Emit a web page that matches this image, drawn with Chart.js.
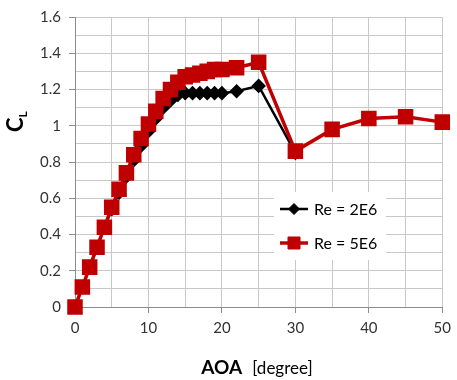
<!DOCTYPE html>
<html>
<head>
<meta charset="utf-8">
<script src="https://cdn.jsdelivr.net/npm/chart.js@4.4.1/dist/chart.umd.min.js"></script>
<style>
  html, body { margin: 0; padding: 0; background: #fff; }
  #wrap { width: 457px; height: 380px; }
</style>
</head>
<body>
<div id="wrap"><canvas id="clChart" width="457" height="380"></canvas></div>
<script>
// angle of attack (deg) and lift coefficient
const aoaRe2 = [0, 1, 2, 3, 4, 5, 6, 7, 8, 9, 10, 11, 12, 13, 14, 15, 16, 17, 18, 19, 20, 22, 25, 30];
const clRe2 = [0, 0.11, 0.22, 0.33, 0.44, 0.54, 0.63, 0.72, 0.81, 0.89, 0.97, 1.04, 1.10, 1.14, 1.17, 1.18, 1.18, 1.18, 1.18, 1.18, 1.18, 1.19, 1.22, 0.85];

const aoaRe5 = [0, 1, 2, 3, 4, 5, 6, 7, 8, 9, 10, 11, 12, 13, 14, 15, 16, 17, 18, 19, 20, 22, 25, 30, 35, 40, 45, 50];
const clRe5 = [0, 0.11, 0.22, 0.33, 0.44, 0.55, 0.65, 0.74, 0.84, 0.93, 1.01, 1.08, 1.15, 1.20, 1.24, 1.27, 1.28, 1.29, 1.30, 1.31, 1.31, 1.32, 1.35, 0.86, 0.98, 1.04, 1.05, 1.02];

const seriesLabels = ['Re = 2E6', 'Re = 5E6'];

const FONT = 'Lato, "Open Sans", sans-serif';
const GRID = '#c8c8c8';
const AXIS = '#8c8c8c';

const toPoints = (xs, ys) => xs.map((x, i) => ({ x: x, y: ys[i] }));

// axis titles: C with subscript L, and bold AOA + [degree]
const titlesPlugin = {
    id: 'titles',
    afterDraw(chart) {
        const ctx = chart.ctx;
        ctx.save();
        ctx.fillStyle = '#000';
        // y title, rotated
        ctx.translate(23, 132);
        ctx.rotate(-Math.PI / 2);
        ctx.textBaseline = 'alphabetic';
        ctx.textAlign = 'left';
        ctx.font = 'bold 22px ' + FONT;
        ctx.fillText('C', 0, 0);
        const cw = ctx.measureText('C').width;
        ctx.font = 'bold 12px ' + FONT;
        ctx.fillText('L', cw, 4);
        ctx.restore();

        // x title
        ctx.save();
        ctx.fillStyle = '#000';
        ctx.textBaseline = 'alphabetic';
        ctx.textAlign = 'left';
        ctx.font = 'bold 19px ' + FONT;
        const w1 = ctx.measureText('AOA').width;
        ctx.font = '17px ' + FONT;
        const w2 = ctx.measureText('[degree]').width;
        const gap = 10;
        let x0 = 257 - (w1 + gap + w2) / 2;
        ctx.font = 'bold 19px ' + FONT;
        ctx.fillText('AOA', x0, 374);
        ctx.font = '17px ' + FONT;
        ctx.fillText('[degree]', x0 + w1 + gap, 374);
        ctx.restore();
    }
};

// legend drawn inside the plot area
const boxLegendPlugin = {
    id: 'boxLegend',
    afterDatasetsDraw(chart) {
        const ctx = chart.ctx;
        const sets = chart.data.datasets;
        ctx.save();
        ctx.fillStyle = '#fff';
        ctx.fillRect(274, 192, 112, 68);
        ctx.font = '16px ' + FONT;
        ctx.textBaseline = 'middle';
        ctx.textAlign = 'left';
        sets.forEach((ds, i) => {
            const y = 209 + i * 34;
            ctx.strokeStyle = ds.borderColor;
            ctx.lineWidth = ds.borderWidth;
            ctx.beginPath();
            ctx.moveTo(280, y);
            ctx.lineTo(308, y);
            ctx.stroke();
            ctx.fillStyle = ds.pointBackgroundColor;
            ctx.strokeStyle = ds.pointBorderColor;
            ctx.lineWidth = 1;
            Chart.helpers.drawPoint(ctx, {
                pointStyle: ds.pointStyle,
                radius: ds.pointRadius,
                rotation: 0,
                borderWidth: 1
            }, 294, y);
            ctx.fillStyle = '#000';
            ctx.fillText(ds.label, 314, y + 1);
        });
        ctx.restore();
    }
};

new Chart(document.getElementById('clChart'), {
    type: 'line',
    data: {
        datasets: [{
            label: seriesLabels[0],
            data: toPoints(aoaRe2, clRe2),
            borderColor: '#000',
            backgroundColor: '#000',
            borderWidth: 2.5,
            pointStyle: 'rectRot',
            pointRadius: 5.5,
            pointBackgroundColor: '#000',
            pointBorderColor: '#000',
            clip: false,
            order: 2
        }, {
            label: seriesLabels[1],
            data: toPoints(aoaRe5, clRe5),
            borderColor: '#c00000',
            backgroundColor: '#c00000',
            borderWidth: 3.5,
            pointStyle: 'rect',
            pointRadius: 8.5,
            pointBackgroundColor: '#c00000',
            pointBorderColor: '#c00000',
            clip: false,
            order: 1
        }]
    },
    options: {
        responsive: false,
        animation: false,
        events: [],
        layout: { padding: { left: 0, right: 11, top: 13, bottom: 0 } },
        plugins: {
            legend: { display: false },
            tooltip: { enabled: false }
        },
        scales: {
            x: {
                type: 'linear',
                min: 0,
                max: 50,
                afterFit(scale) { scale.height = 73; },
                border: { color: AXIS, width: 1 },
                grid: {
                    color: GRID,
                    tickLength: 6,
                    tickColor: c => (c.tick && c.tick.value % 10 === 0) ? AXIS : 'rgba(0,0,0,0)'
                },
                ticks: {
                    stepSize: 5,
                    color: '#333',
                    font: { family: FONT, size: 15 },
                    padding: 6,
                    maxRotation: 0,
                    autoSkip: false,
                    callback: v => (v % 10 === 0 ? String(v) : '')
                }
            },
            y: {
                min: 0,
                max: 1.6,
                afterFit(scale) { scale.width = 75; },
                border: { color: AXIS, width: 1 },
                grid: {
                    color: GRID,
                    tickLength: 6,
                    tickColor: c => (c.tick && Math.round(c.tick.value * 10) % 2 === 0) ? AXIS : 'rgba(0,0,0,0)'
                },
                ticks: {
                    stepSize: 0.1,
                    color: '#333',
                    font: { family: FONT, size: 15 },
                    padding: 8,
                    autoSkip: false,
                    callback: v => {
                        const k = Math.round(v * 10);
                        return k % 2 === 0 ? String(k / 10) : '';
                    }
                }
            }
        }
    },
    plugins: [boxLegendPlugin, titlesPlugin]
});
</script>
</body>
</html>
